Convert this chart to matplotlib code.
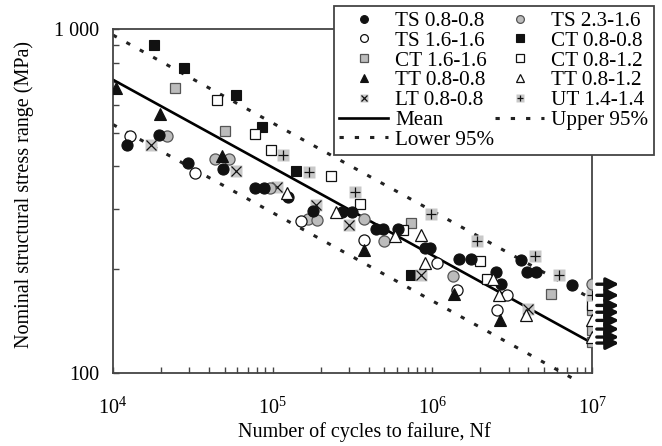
import matplotlib
matplotlib.use('Agg')
import matplotlib.pyplot as plt
from matplotlib.lines import Line2D
from matplotlib.ticker import NullFormatter, LogLocator, FixedLocator

plt.rcParams['font.family'] = ['Liberation Serif', 'DejaVu Serif']
plt.rcParams['mathtext.fontset'] = 'custom'
plt.rcParams['mathtext.rm'] = 'Liberation Serif'
plt.rcParams['mathtext.it'] = 'Liberation Serif:italic'

# ---------------- data ----------------
ts08_n = [12150, 19550, 29490, 48840, 77480, 88220, 124700, 178800, 271600, 313700,
          445400, 490700, 609000, 905200, 966000, 1.461e6, 1.737e6, 2.491e6, 2.677e6,
          3.572e6, 3.929e6, 4.474e6, 7.483e6]
ts08_s = [460, 492, 408, 393, 345, 345, 325, 296, 294, 294,
          262, 262, 262, 230, 230, 214, 214, 197, 181,
          213, 197, 197, 180]

ts16_n = [12720, 32480, 151500, 371400, 1.073e6, 1.432e6, 2.932e6, 2.549e6]
ts16_s = [488, 381, 277, 243, 208, 174, 168, 152]

ts23_n = [21880, 43520, 53480, 96180, 167100, 188600, 371400, 497800, 1.346e6, 1e7]
ts23_s = [488, 418, 418, 345, 280, 278, 280, 242, 191, 181]

ct08_n = [18060, 27840, 59170, 85700, 140500, 737800]
ct08_s = [902, 771, 645, 518, 386, 192]

ct16_n = [24340, 50270, 737800, 5.554e6, 1e7, 1e7, 1e7]
ct16_s = [675, 504, 272, 169, 152, 133, 123]

ct12_n = [44990, 77140, 97580, 230800, 352100, 654400, 1.978e6, 2.207e6, 1e7]
ct12_s = [624, 496, 445, 373, 309, 260, 211, 188, 157]

tt08_n = [10490, 19610, 48140, 371400, 1.365e6, 2.638e6]
tt08_s = [675, 567, 428, 227, 170, 142]

tt12_n = [123400, 250100, 580600, 852100, 902500, 2.396e6, 2.612e6, 3.839e6, 1e7, 1e7]
tt12_s = [334, 293, 250, 252, 209, 188, 168, 147, 142, 127]

lt08_n = [17370, 59170, 105900, 186700, 301800, 844700, 3.969e6]
lt08_s = [461, 386, 348, 308, 269, 192, 153]

ut14_n = [116500, 169500, 329000, 980000, 1.910e6, 4.372e6, 6.204e6, 1e7]
ut14_s = [430, 385, 337, 290, 242, 218, 192, 168]

runout_s = [181, 168, 157, 150, 142, 134, 127, 122]

# design curves
curve_n = [1e4, 1e7]
mean_s = [713, 122]
upper_s = [962, 164]
lower_n = [1e4, 7.5e6]
lower_s = [528, 96.5]

x_ticks = [1e4, 1e5, 1e6, 1e7]
x_ticklabels = [r'$\mathregular{10^{4}}$', r'$\mathregular{10^{5}}$',
                r'$\mathregular{10^{6}}$', r'$\mathregular{10^{7}}$']
y_ticks = [100, 1000]
y_ticklabels = ['100', '1 000']

# ---------------- figure ----------------
fig = plt.figure(figsize=(6.62, 4.46), dpi=100)
ax = fig.add_axes([113/662, 1-372.7/446, 479/662, 343.4/446])
ax.set_xscale('log')
ax.set_yscale('log')
ax.set_xlim(1e4, 1e7)
ax.set_ylim(100, 1000)

GRAY = '#bcbcbc'
BG = '#c8c8c8'
ms = 8

l_mean, = ax.plot(curve_n, mean_s, color='black', lw=1.9, zorder=2)
l_up, = ax.plot(curve_n, upper_s, color='#222', lw=2.2, ls=(0, (1.4, 3.6)), zorder=2)
l_low, = ax.plot(lower_n, lower_s, color='#222', lw=2.2, ls=(0, (1.4, 3.6)), zorder=2, clip_on=False)

h_ct08, = ax.plot(ct08_n, ct08_s, 's', ms=7.5, mfc='#111', mec='#111', mew=0.8, zorder=3)
h_ct16, = ax.plot(ct16_n, ct16_s, 's', ms=7.5, mfc=GRAY, mec='#555', mew=0.9, zorder=3)
h_ct12, = ax.plot(ct12_n, ct12_s, 's', ms=7.5, mfc='white', mec='#111', mew=0.9, zorder=3)
lt_bg, = ax.plot(lt08_n, lt08_s, 's', ms=9, mfc=BG, mec='none', zorder=3)
lt_x, = ax.plot(lt08_n, lt08_s, 'x', ms=6.5, mec='#111', mew=0.9, zorder=3)
ut_bg, = ax.plot(ut14_n, ut14_s, 's', ms=9, mfc=BG, mec='none', zorder=3)
ut_p, = ax.plot(ut14_n, ut14_s, '+', ms=7, mec='#111', mew=0.9, zorder=3)
h_ts23, = ax.plot(ts23_n, ts23_s, 'o', ms=ms, mfc=GRAY, mec='#555', mew=0.9, zorder=4)
h_ts16, = ax.plot(ts16_n, ts16_s, 'o', ms=ms, mfc='white', mec='#111', mew=0.9, zorder=4)
h_ts08, = ax.plot(ts08_n, ts08_s, 'o', ms=ms, mfc='#111', mec='#111', mew=0.8, zorder=4)
h_tt08, = ax.plot(tt08_n, tt08_s, '^', ms=8.5, mfc='#111', mec='#111', mew=0.8, zorder=5)
h_tt12, = ax.plot(tt12_n, tt12_s, '^', ms=8.5, mfc='white', mec='#111', mew=0.9, zorder=5)

# run-out arrows
for s in runout_s:
    ax.annotate('', xy=(1e7 * 10**0.17, s), xytext=(1e7 * 10**0.03, s),
                xycoords='data', textcoords='data', annotation_clip=False,
                arrowprops=dict(arrowstyle='-|>', color='#111', lw=2.4,
                                mutation_scale=19, shrinkA=0, shrinkB=0))

# axes styling
for sp in ax.spines.values():
    sp.set_color('#444')
    sp.set_linewidth(1.3)
ax.xaxis.set_major_locator(FixedLocator(x_ticks))
ax.set_xticklabels(x_ticklabels)
ax.xaxis.set_minor_locator(LogLocator(base=10, subs=range(2, 10)))
ax.xaxis.set_minor_formatter(NullFormatter())
ax.yaxis.set_major_locator(FixedLocator(y_ticks))
ax.set_yticklabels(y_ticklabels)
ax.yaxis.set_minor_locator(LogLocator(base=10, subs=range(2, 10)))
ax.yaxis.set_minor_formatter(NullFormatter())
ax.tick_params(which='both', direction='in', length=4, width=1, color='#444',
               top=False, right=False)
ax.tick_params(axis='x', which='major', pad=18, labelsize=14.5)
ax.tick_params(axis='y', which='major', pad=10, labelsize=14.5)

ax.set_xlabel('Number of cycles to failure, Nf', fontsize=14.5)
ax.set_ylabel('Nominal structural stress range (MPa)', fontsize=14.5)
ax.xaxis.set_label_coords(0.524, -0.145)
ax.yaxis.set_label_coords(-0.165, 0.52)

handles = [h_ts08, h_ts16, h_ct16, h_tt08, (lt_bg, lt_x), l_mean, l_low,
           h_ts23, h_ct08, h_ct12, h_tt12, (ut_bg, ut_p), l_up]
labels = ['TS 0.8-0.8', 'TS 1.6-1.6', 'CT 1.6-1.6', 'TT 0.8-0.8', 'LT 0.8-0.8', 'Mean',
          'Lower 95%', 'TS 2.3-1.6', 'CT 0.8-0.8', 'CT 0.8-1.2', 'TT 0.8-1.2',
          'UT 1.4-1.4', 'Upper 95%']
leg = ax.legend(handles, labels, ncol=2, loc='upper left',
                bbox_to_anchor=(334/662, 1-6/446), bbox_transform=fig.transFigure,
                fontsize=15.2, frameon=True, fancybox=False, framealpha=1,
                edgecolor='#444', borderpad=0.25, labelspacing=0.0,
                handlelength=2.3, handletextpad=0.35, columnspacing=0.05,
                markerscale=0.7, borderaxespad=0)
leg.get_frame().set_linewidth(1.3)

fig.savefig('out.png', dpi=100)
